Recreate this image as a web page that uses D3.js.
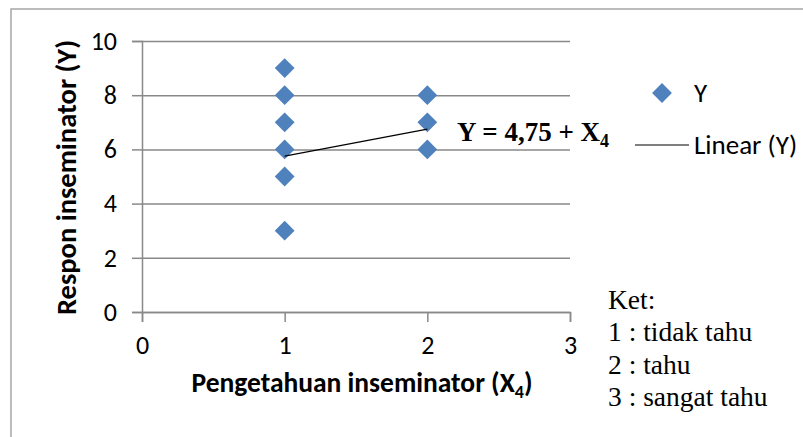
<!DOCTYPE html>
<html>
<head>
<meta charset="utf-8">
<script src="https://cdn.jsdelivr.net/npm/d3@7"></script>
<style>
  body { margin: 0; background: #fff; }
  svg { display: block; }
</style>
</head>
<body>
<div id="chart"></div>
<script>
// scatter values (X4 = pengetahuan, Y = respon)
const xVals = [1, 1, 1, 1, 1, 1, 2, 2, 2];
const yVals = [9, 8, 7, 6, 5, 3, 8, 7, 6];
const xTicks = [0, 1, 2, 3];
const yTicks = [0, 2, 4, 6, 8, 10];
// trendline Y = 4,75 + X4, drawn between x = 1 and x = 2
const trendX = [1, 2];
const trendIntercept = 4.75;
const trendSlope = 1;
const ketLines = ["Ket:", "1 : tidak tahu", "2 : tahu", "3 : sangat tahu"];

const width = 803, height = 437;
const margin = {top: 41, right: 233, bottom: 125, left: 142};
const sans = "Carlito, Lato, sans-serif";
const serif = "Liberation Serif, Times New Roman, serif";
const blue = "#4f81bd";
const grid = "#898989";

const svg = d3.select("#chart").append("svg")
    .attr("width", width)
    .attr("height", height);

// outer chart border
svg.append("rect")
    .attr("x", 11).attr("y", 9)
    .attr("width", width + 20).attr("height", height + 20)
    .attr("fill", "none")
    .attr("stroke", "#a6a6a6")
    .attr("stroke-width", 1.5);

const x = d3.scaleLinear()
    .domain([0, 3])
    .range([margin.left, width - margin.right]);

const y = d3.scaleLinear()
    .domain([0, 10])
    .range([height - margin.bottom, margin.top]);

// y axis with gridlines
svg.append("g")
    .attr("transform", `translate(${margin.left},0)`)
    .call(d3.axisLeft(y).tickValues(yTicks).tickSize(10).tickPadding(15).tickFormat(d3.format("d")))
    .call(g => g.select(".domain").attr("stroke", grid).attr("stroke-width", 1.5))
    .call(g => g.selectAll(".tick line").clone()
        .attr("x2", x(3) - margin.left)
        .attr("stroke", grid).attr("stroke-width", 1.5))
    .call(g => g.selectAll(".tick line").attr("stroke", grid).attr("stroke-width", 1.5))
    .call(g => g.selectAll(".tick text")
        .attr("font-family", sans).attr("font-size", 26).attr("fill", "#000"));

// x axis
svg.append("g")
    .attr("transform", `translate(0,${y(0)})`)
    .call(d3.axisBottom(x).tickValues(xTicks).tickSize(10).tickPadding(14).tickFormat(d3.format("d")))
    .call(g => g.select(".domain").attr("stroke", grid).attr("stroke-width", 1.5))
    .call(g => g.selectAll(".tick line").attr("stroke", grid).attr("stroke-width", 1.5))
    .call(g => g.selectAll(".tick text")
        .attr("font-family", sans).attr("font-size", 26).attr("fill", "#000"));

// axis titles
const xTitle = svg.append("text")
    .attr("x", 362).attr("y", 392)
    .attr("text-anchor", "middle")
    .attr("font-family", sans).attr("font-size", 27.5).attr("font-weight", "bold")
    .text("Pengetahuan inseminator (X");
xTitle.append("tspan").attr("font-size", 18).attr("dy", 6).text("4");
xTitle.append("tspan").attr("dy", -6).text(")");

svg.append("text")
    .attr("transform", `translate(76,${(y(0) + y(10)) / 2 + 1}) rotate(-90)`)
    .attr("text-anchor", "middle")
    .attr("font-family", sans).attr("font-size", 28.5).attr("font-weight", "bold")
    .text("Respon inseminator (Y)");

// points
const diamond = d3.symbol().type(d3.symbolDiamond2).size(250);
svg.append("g")
    .selectAll("path")
    .data(xVals.map((v, i) => [v, yVals[i]]))
    .join("path")
    .attr("transform", d => `translate(${x(d[0])},${y(d[1])})`)
    .attr("d", diamond)
    .attr("fill", blue);

// trendline
svg.append("path")
    .datum(trendX.map(v => [v, trendIntercept + trendSlope * v]))
    .attr("fill", "none")
    .attr("stroke", "#000")
    .attr("stroke-width", 1.2)
    .attr("d", d3.line().x(d => x(d[0])).y(d => y(d[1])));

// equation label
const eq = svg.append("text")
    .attr("x", 457).attr("y", 141)
    .attr("font-family", serif).attr("font-size", 27).attr("font-weight", "bold")
    .text("Y = 4,75 + X");
eq.append("tspan").attr("font-size", 18).attr("dy", 6).text("4");

// legend
svg.append("path")
    .attr("transform", `translate(662,93)`)
    .attr("d", diamond)
    .attr("fill", blue);
svg.append("text")
    .attr("x", 694).attr("y", 93).attr("dy", "0.35em")
    .attr("font-family", sans).attr("font-size", 27)
    .text("Y");
svg.append("line")
    .attr("x1", 635).attr("x2", 689)
    .attr("y1", 145).attr("y2", 145)
    .attr("stroke", "#000").attr("stroke-width", 1.2);
svg.append("text")
    .attr("x", 694).attr("y", 145).attr("dy", "0.35em")
    .attr("font-family", sans).attr("font-size", 27)
    .text("Linear (Y)");

// keterangan
svg.append("g")
    .selectAll("text")
    .data(ketLines)
    .join("text")
    .attr("x", 608)
    .attr("y", (d, i) => 309 + i * 32.3)
    .attr("font-family", serif).attr("font-size", 27.5)
    .text(d => d);
</script>
</body>
</html>
